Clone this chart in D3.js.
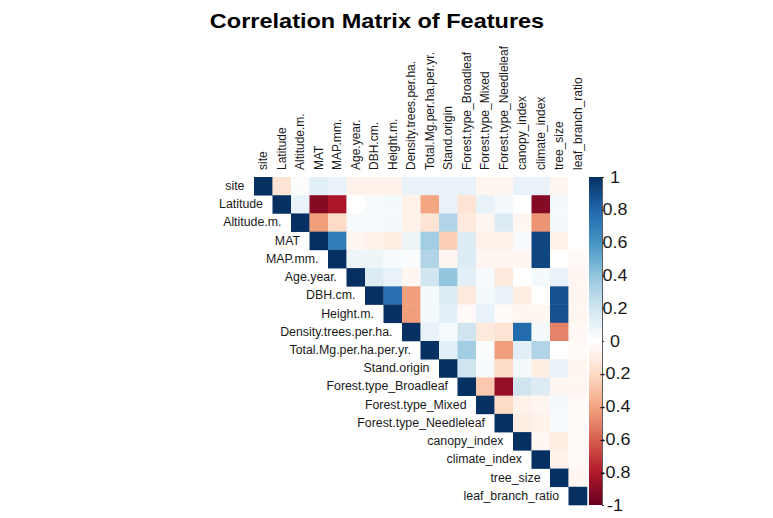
<!DOCTYPE html>
<html><head><meta charset="utf-8">
<script src="https://cdn.jsdelivr.net/npm/d3@7"></script>
<style>body{margin:0;background:#fff;}svg{display:block;}</style>
</head><body>
<svg id="c" width="773" height="518"></svg>
<script>
const variables = ["site","Latitude","Altitude.m.","MAT","MAP.mm.","Age.year.","DBH.cm.","Height.m.","Density.trees.per.ha.","Total.Mg.per.ha.per.yr.","Stand.origin","Forest.type_Broadleaf","Forest.type_Mixed","Forest.type_Needleleaf","canopy_index","climate_index","tree_size","leaf_branch_ratio"];
// upper triangle, row by row, columns from the diagonal onward
const upperRows = [
 [1,-0.15,0.02,0.12,0.1,-0.07,-0.07,-0.07,0.1,0.1,0.1,0.1,-0.05,-0.05,0.1,0.1,-0.05,0],
 [1,0.1,-0.92,-0.82,0,0.03,0.05,-0.07,-0.4,0.1,-0.15,0.1,0.05,0,-0.92,0.05,0],
 [1,-0.42,-0.2,0.04,0.03,0.05,-0.07,-0.15,0.3,-0.12,-0.05,0.15,-0.05,-0.45,0.05,0],
 [1,0.7,-0.05,-0.07,-0.1,0.08,0.35,-0.25,0.15,-0.07,-0.07,0.03,0.92,-0.07,0],
 [1,0.08,0.08,0.03,0.02,0.3,-0.05,0.15,-0.05,-0.05,-0.05,0.92,0,-0.03],
 [1,0.15,0.1,-0.05,0.2,0.4,0.12,0.03,-0.12,0,0.05,0.1,-0.05],
 [1,0.75,-0.42,0.05,0.15,-0.12,0.05,0.1,-0.1,0,0.88,-0.05],
 [1,-0.42,0.05,0.12,-0.03,0.1,-0.03,-0.05,-0.05,0.88,-0.05],
 [1,0.1,0.04,0.2,-0.12,-0.15,0.78,0.05,-0.5,-0.04],
 [1,0.12,0.35,0.02,-0.42,0.12,0.3,0,-0.03],
 [1,0.2,0.03,-0.2,0.05,-0.1,0.1,-0.05],
 [1,-0.27,-0.88,0.2,0.15,-0.05,-0.05],
 [1,-0.2,-0.07,-0.05,0.05,-0.03],
 [1,-0.1,-0.07,0.03,-0.03],
 [1,-0.05,-0.1,-0.03],
 [1,-0.07,-0.03],
 [1,-0.05],
 [1]
];
const colorTicks = [1,0.8,0.6,0.4,0.2,0,-0.2,-0.4,-0.6,-0.8,-1];
const palette = ["#67001F","#B2182B","#D6604D","#F4A582","#FDDBC7","#FFFFFF","#D1E5F0","#92C5DE","#4393C3","#2166AC","#053061"];

const svg = d3.select("#c");
const mLeft = 254, mTop = 177, mRight = 587, mBottom = 505;
const sx = 1.12;   // horizontal stretch of the title / legend text
const sxl = 1.03;  // horizontal stretch of the variable labels
const x = d3.scaleBand().domain(variables).range([mLeft, mRight]);
const y = d3.scaleBand().domain(variables).range([mTop, mBottom]);
const color = d3.scaleLinear().domain(d3.range(palette.length).map(i => -1 + 2*i/(palette.length-1))).range(palette).interpolate(d3.interpolateRgb);

const cells = [];
upperRows.forEach((row, i) => row.forEach((v, k) => cells.push({r: variables[i], c: variables[i+k], v})));

svg.append("g").selectAll("rect").data(cells).join("rect")
  .attr("x", d => x(d.c)).attr("y", d => y(d.r))
  .attr("width", x.bandwidth()+0.3).attr("height", y.bandwidth()+0.3)
  .attr("fill", d => color(d.v));

const font = "'Liberation Sans', Arial, sans-serif";
// row labels
svg.append("g").selectAll("text").data(variables).join("text")
  .attr("transform", d => `translate(${x(d) - 9.5},${y(d) + y.bandwidth()/2}) scale(${sxl},1)`)
  .attr("text-anchor","end").attr("dominant-baseline","central")
  .attr("font-family", font).attr("font-size", 12).attr("fill","#1a1a1a")
  .text(d => d);
// column labels
svg.append("g").selectAll("text").data(variables).join("text")
  .attr("transform", d => `translate(${x(d) + x.bandwidth()/2},170) scale(${sxl},1) rotate(-90)`)
  .attr("dominant-baseline","central")
  .attr("font-family", font).attr("font-size", 12).attr("fill","#1a1a1a")
  .text(d => d);

// colour bar
const cbX = 589, cbW = 13;
const cy = d3.scaleLinear().domain([1,-1]).range([mTop, mBottom]);
const defs = svg.append("defs");
const grad = defs.append("linearGradient").attr("id","g").attr("x1",0).attr("x2",0).attr("y1",0).attr("y2",1);
d3.range(0, 1.0001, 0.05).forEach(t => grad.append("stop").attr("offset", t).attr("stop-color", color(1 - 2*t)));
svg.append("rect").attr("x", cbX).attr("y", mTop).attr("width", cbW).attr("height", mBottom-mTop).attr("fill","url(#g)");
const ax = svg.append("g").attr("transform", `translate(${cbX+cbW},0)`)
  .call(d3.axisRight(cy).tickValues(colorTicks).tickSize(2).tickFormat(d => String(d)));
ax.select(".domain").attr("stroke","#333").attr("stroke-width",0.8);
ax.selectAll(".tick line").attr("stroke","#333");
ax.selectAll(".tick text")
  .attr("x", null).attr("dy", null)
  .attr("text-anchor","middle").attr("dominant-baseline","central")
  .attr("transform", `translate(13,0) scale(${sx},1)`)
  .attr("font-family", font).attr("font-size", 16).attr("fill","#1a1a1a");

// title
svg.append("text").attr("transform", `translate(377,28) scale(${sx},1)`).attr("text-anchor","middle")
  .attr("font-family", font).attr("font-size", 21).attr("font-weight","bold").attr("fill","#000")
  .text("Correlation Matrix of Features");
</script>
</body></html>
